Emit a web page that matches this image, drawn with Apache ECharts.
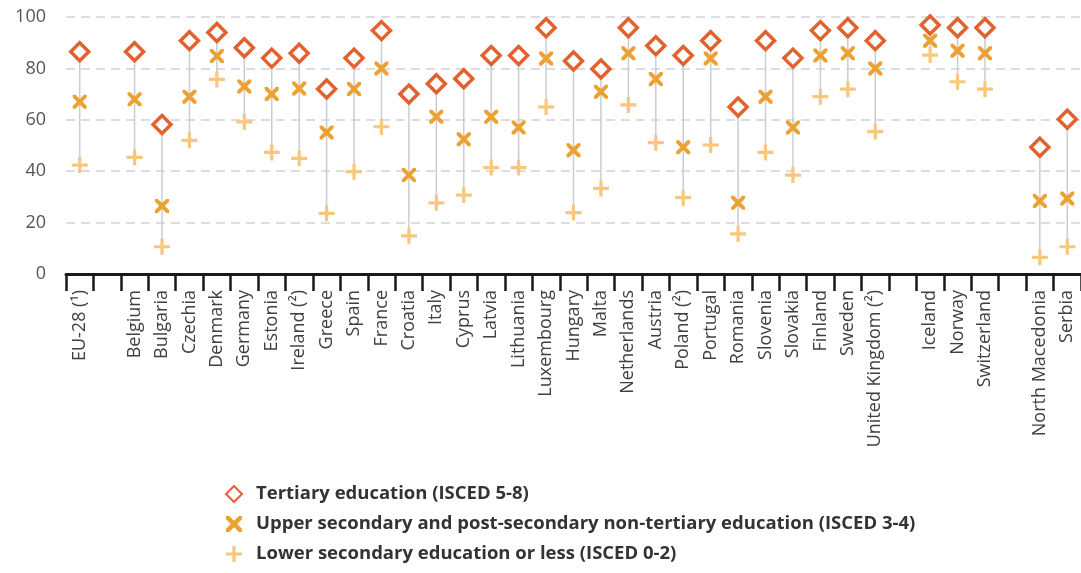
<!DOCTYPE html>
<html>
<head>
<meta charset="utf-8">
<script src="https://cdn.jsdelivr.net/npm/echarts@6/dist/echarts.min.js"></script>
<style>
html,body{margin:0;padding:0;background:#fff;}
#chart{width:1081px;height:573px;}
</style>
</head>
<body>
<div id="chart"></div>
<script>
var categories = ['EU-28 (\u00b9)', '', 'Belgium', 'Bulgaria', 'Czechia', 'Denmark', 'Germany', 'Estonia', 'Ireland (\u00b2)', 'Greece', 'Spain', 'France', 'Croatia', 'Italy', 'Cyprus', 'Latvia', 'Lithuania', 'Luxembourg', 'Hungary', 'Malta', 'Netherlands', 'Austria', 'Poland (\u00b2)', 'Portugal', 'Romania', 'Slovenia', 'Slovakia', 'Finland', 'Sweden', 'United Kingdom (\u00b2)', ' ', 'Iceland', 'Norway', 'Switzerland', '  ', 'North Macedonia', 'Serbia'];

var tertiary = [86.5, null, 86.5, 58.2, 90.8, 94, 88, 84, 85.9, 72, 84, 94.7, 70, 74, 76, 85, 85, 95.8, 82.9, 79.8, 95.8, 88.8, 85, 90.8, 65, 90.8, 84, 94.7, 95.8, 90.8, null, 96.9, 95.8, 95.8, null, 49.3, 60.2];
var upperSecondary = [67, null, 68, 26.5, 69, 84.8, 73, 70, 72.2, 55.1, 72, 80, 38.5, 61.2, 52.4, 61.2, 57, 83.9, 48.2, 70.9, 85.9, 75.9, 49.3, 83.9, 27.7, 69, 57, 85, 85.9, 80, null, 90.8, 86.9, 85.9, null, 28.4, 29.4];
var lowerSecondary = [42.4, null, 45.4, 10.6, 52, 75.7, 59.2, 47.3, 45, 23.6, 39.8, 57.3, 14.8, 27.7, 30.7, 41.4, 41.4, 65, 23.9, 33.3, 65.8, 51.1, 29.7, 50.2, 15.6, 47.3, 38.5, 69, 71.9, 55.4, null, 85.2, 74.8, 71.9, null, 6.5, 10.6];

var yTicks = [0, 20, 40, 60, 80, 100];

var seriesNames = [
  'Tertiary education (ISCED 5-8)',
  'Upper secondary and post-secondary non-tertiary education (ISCED 3-4)',
  'Lower secondary education or less (ISCED 0-2)'
];

var rangeData = categories.map(function (c, i) {
  if (tertiary[i] == null) return [i, null, null];
  var vals = [tertiary[i], upperSecondary[i], lowerSecondary[i]];
  return [i, Math.min.apply(null, vals), Math.max.apply(null, vals)];
});

var xPath = 'path://M0,0 L2,0 L5,3 L8,0 L10,0 L10,2 L7,5 L10,8 L10,10 L8,10 L5,7 L2,10 L0,10 L0,8 L3,5 L0,2 Z';
var plusPath = 'path://M4,0 L6,0 L6,4 L10,4 L10,6 L6,6 L6,10 L4,10 L4,6 L0,6 L0,4 L4,4 Z';

var chart = echarts.init(document.getElementById('chart'));
chart.setOption({
  animation: false,
  backgroundColor: '#ffffff',
  textStyle: { fontFamily: 'Open Sans' },
  grid: { left: 66, right: -7, top: 17, bottom: 299, containLabel: false },
  legend: {
    orient: 'vertical',
    left: 220,
    top: 479,
    itemGap: 10,
    itemWidth: 16,
    itemHeight: 16,
    textStyle: { fontSize: 18.5, lineHeight: 20, fontWeight: 'bold', color: '#333', fontFamily: 'Open Sans', padding: [0, 0, 0, 9] },
    data: seriesNames
  },
  xAxis: {
    type: 'category',
    data: categories,
    boundaryGap: true,
    axisLine: { lineStyle: { color: '#1a1a1a', width: 3 } },
    axisTick: { show: true, interval: 0, length: 17, lineStyle: { color: '#1a1a1a', width: 2.5 } },
    axisLabel: { interval: 0, rotate: 90, margin: 16, fontSize: 18, color: '#404040', fontFamily: 'Open Sans' },
    splitLine: { show: false }
  },
  yAxis: {
    type: 'value',
    min: yTicks[0],
    max: yTicks[yTicks.length - 1],
    interval: 20,
    axisLine: { show: false },
    axisTick: { show: false },
    axisLabel: { fontSize: 18, color: '#555', margin: 20, fontFamily: 'Open Sans' },
    splitLine: { show: true, lineStyle: { color: '#cfd3d8', width: 1.5, type: [9, 6] } }
  },
  series: [
    {
      type: 'custom',
      silent: true,
      z: 1,
      data: rangeData,
      encode: { x: 0, y: [1, 2] },
      renderItem: function (params, api) {
        var lo = api.value(1), hi = api.value(2);
        if (lo == null || isNaN(lo)) return null;
        var p1 = api.coord([api.value(0), lo]);
        var p2 = api.coord([api.value(0), hi]);
        return {
          type: 'line',
          shape: { x1: p1[0], y1: p1[1], x2: p2[0], y2: p2[1] },
          style: { stroke: '#c9cdd2', lineWidth: 1.5 }
        };
      }
    },
    {
      name: seriesNames[2],
      type: 'scatter',
      z: 3,
      symbol: plusPath,
      symbolSize: 16,
      itemStyle: { color: '#f8c67c', opacity: 1 },
      data: lowerSecondary
    },
    {
      name: seriesNames[1],
      type: 'scatter',
      z: 4,
      symbol: xPath,
      symbolSize: 14,
      itemStyle: { color: '#eba232', opacity: 1 },
      data: upperSecondary
    },
    {
      name: seriesNames[0],
      type: 'scatter',
      z: 5,
      symbol: 'diamond',
      symbolSize: 18,
      itemStyle: { color: '#ffffff', borderColor: '#e2622f', borderWidth: 3.5, opacity: 1 },
      data: tertiary
    }
  ]
});
</script>
</body>
</html>
